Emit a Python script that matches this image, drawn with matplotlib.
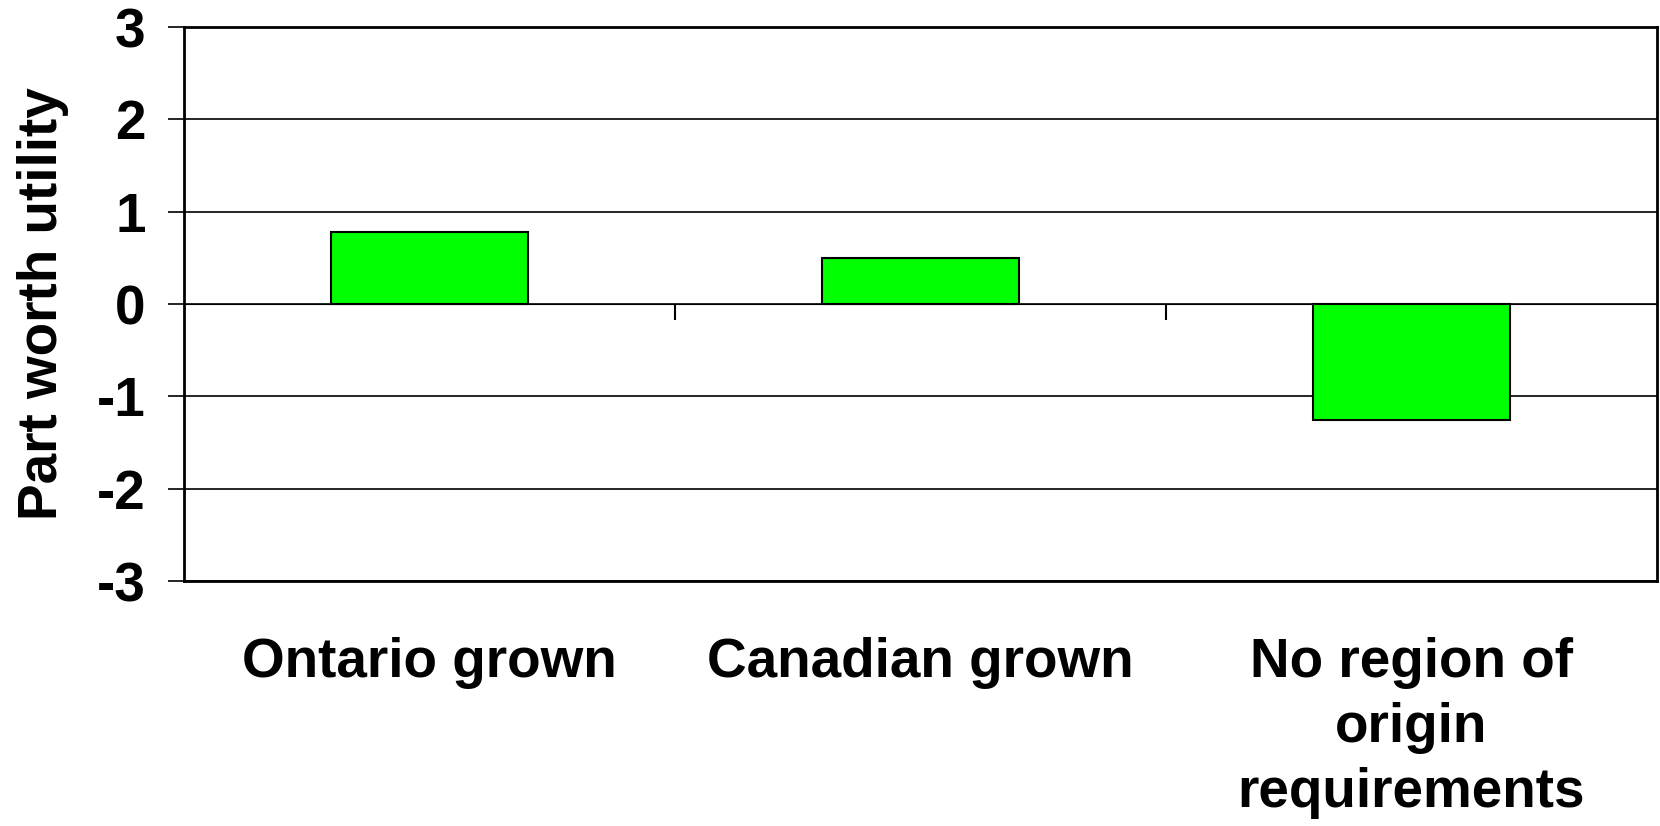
import numpy as np
import matplotlib
matplotlib.use("Agg")
import matplotlib.pyplot as plt

# part worth utilities by region-of-origin level
categories = ["Ontario grown", "Canadian grown", "No region of\norigin\nrequirements"]
utility = [0.78, 0.50, -1.26]
yticks = [-3, -2, -1, 0, 1, 2, 3]

plt.rcParams['font.family'] = ['Liberation Sans', 'DejaVu Sans']
plt.rcParams['font.weight'] = 'bold'

fig = plt.figure(figsize=(16.6, 8.26), dpi=100)
ax = fig.add_axes([0.1108, 0.2966, 0.8874, 0.6707])

x = np.arange(len(categories))
ax.bar(x, utility, width=0.4, color='#00ff00', edgecolor='black', linewidth=1.5, zorder=3)

ax.set_xlim(-0.5, len(categories) - 0.5)
ax.set_ylim(-3, 3)
ax.set_yticks(yticks)
ax.set_yticklabels([str(t) for t in yticks], fontsize=39.5, fontweight='bold')
ax.yaxis.grid(True, color='black', linewidth=1.2, zorder=0)
ax.set_axisbelow(True)
ax.tick_params(axis='y', direction='out', length=11.5, width=1.2, pad=16)

ax.set_xticks(x)
ax.set_xticklabels(categories, fontsize=39.5, fontweight='bold', linespacing=1.33, va='top')
ax.tick_params(axis='x', length=0, pad=40)

# category separators sit on the zero line
sec = ax.secondary_xaxis(0.5)
sec.set_xticks(x[:-1] + 0.5)
sec.set_xticklabels([])
sec.tick_params(direction='in', length=11.5, width=1.5)
sec.spines['bottom'].set_visible(False)

for s in ax.spines.values():
    s.set_linewidth(2)
    s.set_color('black')

ax.set_ylabel("Part worth utility", fontsize=39.5, fontweight='bold', labelpad=20)

fig.savefig("out.png", dpi=100)
